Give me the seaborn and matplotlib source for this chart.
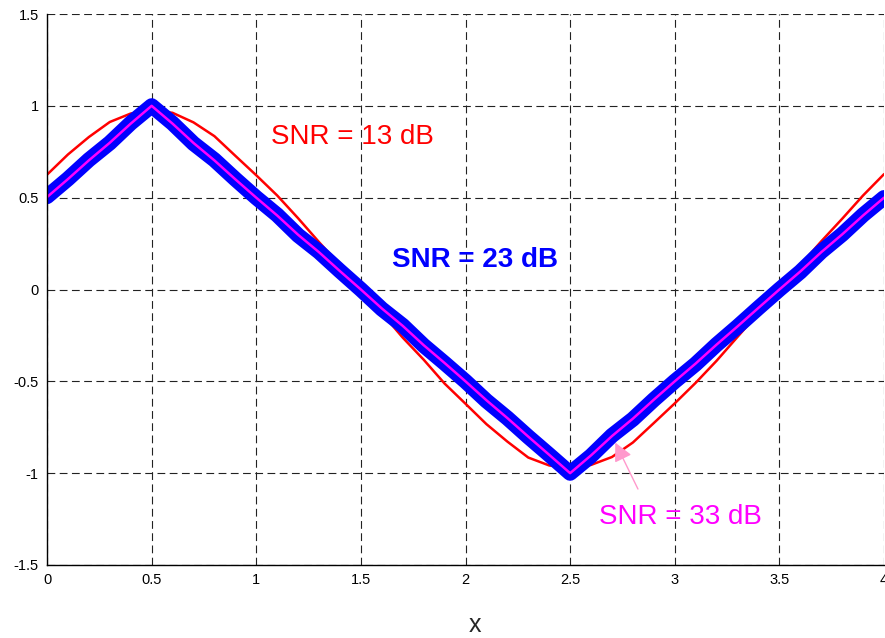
import matplotlib
matplotlib.use('Agg')
import matplotlib.pyplot as plt
import numpy as np
import pandas as pd
import seaborn as sns
from matplotlib.ticker import FuncFormatter

# Data (x step 0.1 from 0 to 4)
x_vals = [round(0.1 * i, 1) for i in range(41)]

# SNR = 13 dB (red, smoothed)
snr13 = [0.625, 0.735, 0.830, 0.912, 0.958, 0.975, 0.962, 0.910, 0.835, 0.728,
         0.622, 0.512, 0.388, 0.258, 0.132, 0.002, -0.128, -0.262, -0.382, -0.512,
         -0.622, -0.733, -0.828, -0.915, -0.958, -0.972, -0.955, -0.912, -0.833, -0.727,
         -0.620, -0.508, -0.388, -0.258, -0.128, 0.004, 0.132, 0.262, 0.385, 0.512,
         0.628]

# SNR = 23 dB (blue, thick)
snr23 = [0.506, 0.602, 0.706, 0.798, 0.906, 1.000, 0.905, 0.795, 0.706, 0.601,
         0.500, 0.406, 0.295, 0.205, 0.101, 0.000, -0.106, -0.196, -0.305, -0.401,
         -0.500, -0.606, -0.700, -0.802, -0.900, -1.000, -0.906, -0.795, -0.706, -0.600,
         -0.500, -0.406, -0.300, -0.202, -0.100, 0.000, 0.096, 0.206, 0.300, 0.406,
         0.500]

# SNR = 33 dB (magenta, thin)
snr33 = [0.503, 0.601, 0.703, 0.799, 0.903, 1.000, 0.903, 0.798, 0.703, 0.600,
         0.500, 0.403, 0.298, 0.203, 0.100, 0.000, -0.103, -0.198, -0.303, -0.400,
         -0.500, -0.603, -0.700, -0.801, -0.900, -1.000, -0.903, -0.798, -0.703, -0.600,
         -0.500, -0.403, -0.300, -0.201, -0.100, 0.000, 0.098, 0.203, 0.300, 0.403,
         0.500]

x_ticks = [0, 0.5, 1, 1.5, 2, 2.5, 3, 3.5, 4]
y_ticks = [-1.5, -1, -0.5, 0, 0.5, 1, 1.5]

df = pd.DataFrame({'x': x_vals, 'snr13': snr13, 'snr23': snr23, 'snr33': snr33})

sns.set_style('white')
plt.rcParams['font.family'] = ['Liberation Sans', 'DejaVu Sans']
plt.rcParams['axes.unicode_minus'] = False

fig = plt.figure(figsize=(8.85, 6.38), dpi=100)
ax = fig.add_axes([47 / 885, 73 / 638, 837 / 885, 551 / 638])

sns.lineplot(data=df, x='x', y='snr13', ax=ax, color='#ff0000', linewidth=1.8, sort=False)
sns.lineplot(data=df, x='x', y='snr23', ax=ax, color='#0000ff', linewidth=11,
             sort=False, solid_joinstyle='round')
sns.lineplot(data=df, x='x', y='snr33', ax=ax, color='#ff00ff', linewidth=1.8, sort=False)

ax.set_xlim(0, 4)
ax.set_ylim(-1.5, 1.5)
ax.set_xticks(x_ticks)
ax.set_yticks(y_ticks)
fmt = FuncFormatter(lambda v, p: '%g' % v)
ax.xaxis.set_major_formatter(fmt)
ax.yaxis.set_major_formatter(fmt)
ax.tick_params(direction='in', length=4, width=0.8, colors='black', labelsize=10.5, pad=6)

ax.grid(True, color='#222222', linestyle=(0, (7, 4)), linewidth=0.8)
ax.set_axisbelow(True)
for side in ['top', 'right']:
    ax.spines[side].set_visible(False)
for side in ['left', 'bottom']:
    ax.spines[side].set_color('black')
    ax.spines[side].set_linewidth(1.0)

ax.set_xlabel('x', fontsize=18, va='center')
ax.xaxis.set_label_coords((475 - 47) / 837, (565 - 625) / 551)
ax.set_ylabel('')

ax.text(1.458, 0.833, 'SNR = 13 dB', color='#ff0000', fontsize=20, ha='center', va='center')
ax.text(2.045, 0.163, 'SNR = 23 dB', color='#0000ff', fontsize=20, fontweight='bold',
        ha='center', va='center')
ax.text(3.025, -1.236, 'SNR = 33 dB', color='#ff00ff', fontsize=20, ha='center', va='center')
ax.annotate('', xy=(2.71, -0.82), xytext=(2.83, -1.10),
            arrowprops=dict(arrowstyle='-|>', color='#ff99cc', lw=1.0, mutation_scale=28))

fig.savefig('out.png', dpi=100)
